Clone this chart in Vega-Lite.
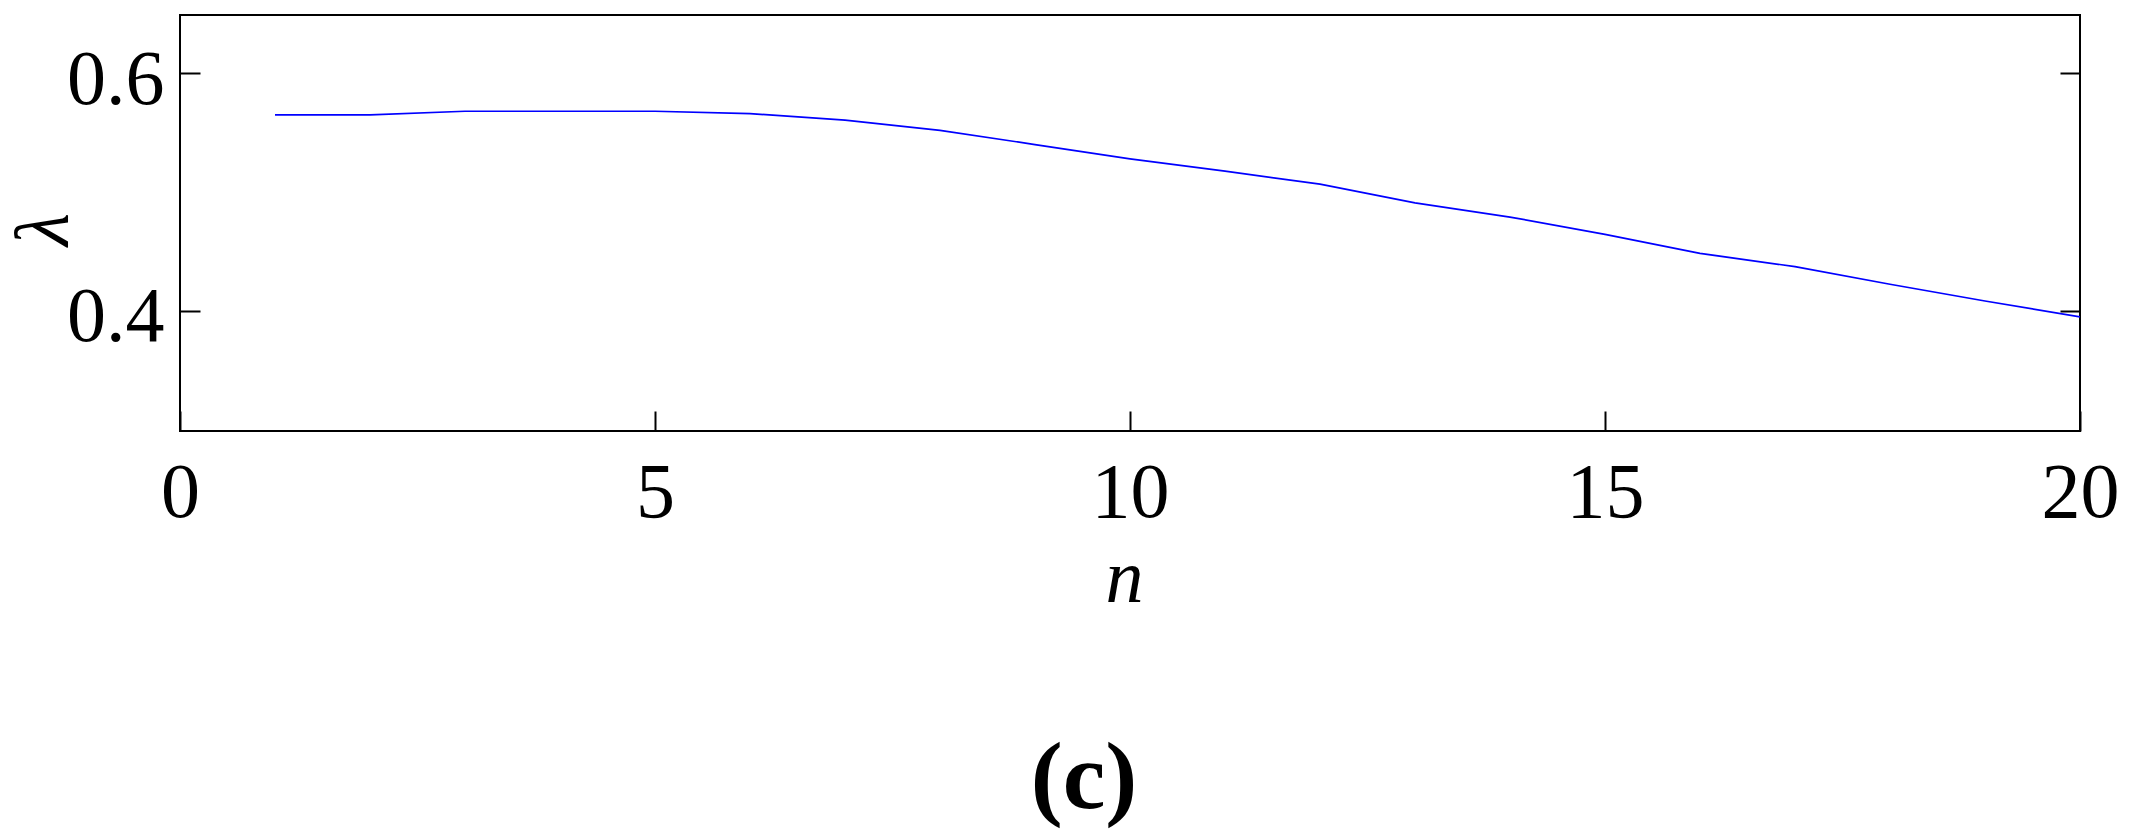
{
  "$schema": "https://vega.github.io/schema/vega-lite/v6.json",
  "width": 1900,
  "height": 416,
  "autosize": {"type": "none"},
  "padding": {"left": 180, "top": 15, "right": 54, "bottom": 403},
  "background": "white",
  "config": {
    "view": {"stroke": "black", "strokeWidth": 2},
    "axis": {
      "domain": false,
      "grid": false,
      "labelFont": "Liberation Serif",
      "labelFontSize": 78,
      "labelColor": "black",
      "tickColor": "black",
      "tickWidth": 2,
      "tickSize": -20,
      "titleFont": "Liberation Serif",
      "titleFontStyle": "italic",
      "titleFontWeight": "normal",
      "titleColor": "black",
      "titleFontSize": 76
    }
  },
  "title": {
    "text": "(c)",
    "orient": "bottom",
    "anchor": "middle",
    "font": "Liberation Serif",
    "fontSize": 96,
    "fontWeight": "bold",
    "color": "black",
    "offset": 116,
    "dx": -46
  },
  "data": {
    "values": [
      {"n": 1, "lambda": 0.565},
      {"n": 2, "lambda": 0.565},
      {"n": 3, "lambda": 0.568},
      {"n": 4, "lambda": 0.568},
      {"n": 5, "lambda": 0.568},
      {"n": 6, "lambda": 0.566},
      {"n": 7, "lambda": 0.5605},
      {"n": 8, "lambda": 0.552},
      {"n": 9, "lambda": 0.540},
      {"n": 10, "lambda": 0.528},
      {"n": 11, "lambda": 0.5176},
      {"n": 12, "lambda": 0.5067},
      {"n": 13, "lambda": 0.491},
      {"n": 14, "lambda": 0.479},
      {"n": 15, "lambda": 0.4645},
      {"n": 16, "lambda": 0.4485},
      {"n": 17, "lambda": 0.4373},
      {"n": 18, "lambda": 0.4225},
      {"n": 19, "lambda": 0.4084},
      {"n": 20, "lambda": 0.395}
    ]
  },
  "layer": [
    {
      "mark": {"type": "line", "color": "#0000ff", "strokeWidth": 1.7, "clip": true},
      "encoding": {
        "x": {
          "field": "n",
          "type": "quantitative",
          "scale": {"domain": [0, 20], "nice": false, "zero": false},
          "axis": {
            "values": [0, 5, 10, 15, 20],
            "format": "d",
            "labelPadding": 43,
            "labelFlush": false,
            "title": "n",
            "titleX": 944,
            "titleY": 170,
            "titleBaseline": "alphabetic",
            "titleAnchor": null
          }
        },
        "y": {
          "field": "lambda",
          "type": "quantitative",
          "scale": {"domain": [0.299, 0.649], "nice": false, "zero": false},
          "axis": {
            "values": [0.4, 0.6],
            "format": ".1f",
            "labelPadding": 36,
            "labelBaseline": "alphabetic",
            "labelOffset": 30,
            "title": "λ",
            "titleAngle": -90,
            "titleX": -136,
            "titleY": 214,
            "titleAlign": "center",
            "titleBaseline": "middle"
          }
        }
      }
    },
    {
      "mark": {"type": "line", "opacity": 0},
      "encoding": {
        "x": {"field": "n", "type": "quantitative"},
        "y": {
          "field": "lambda",
          "type": "quantitative",
          "axis": {
            "orient": "right",
            "values": [0.4, 0.6],
            "labels": false,
            "title": null
          }
        }
      }
    }
  ],
  "resolve": {"axis": {"y": "independent"}}
}
